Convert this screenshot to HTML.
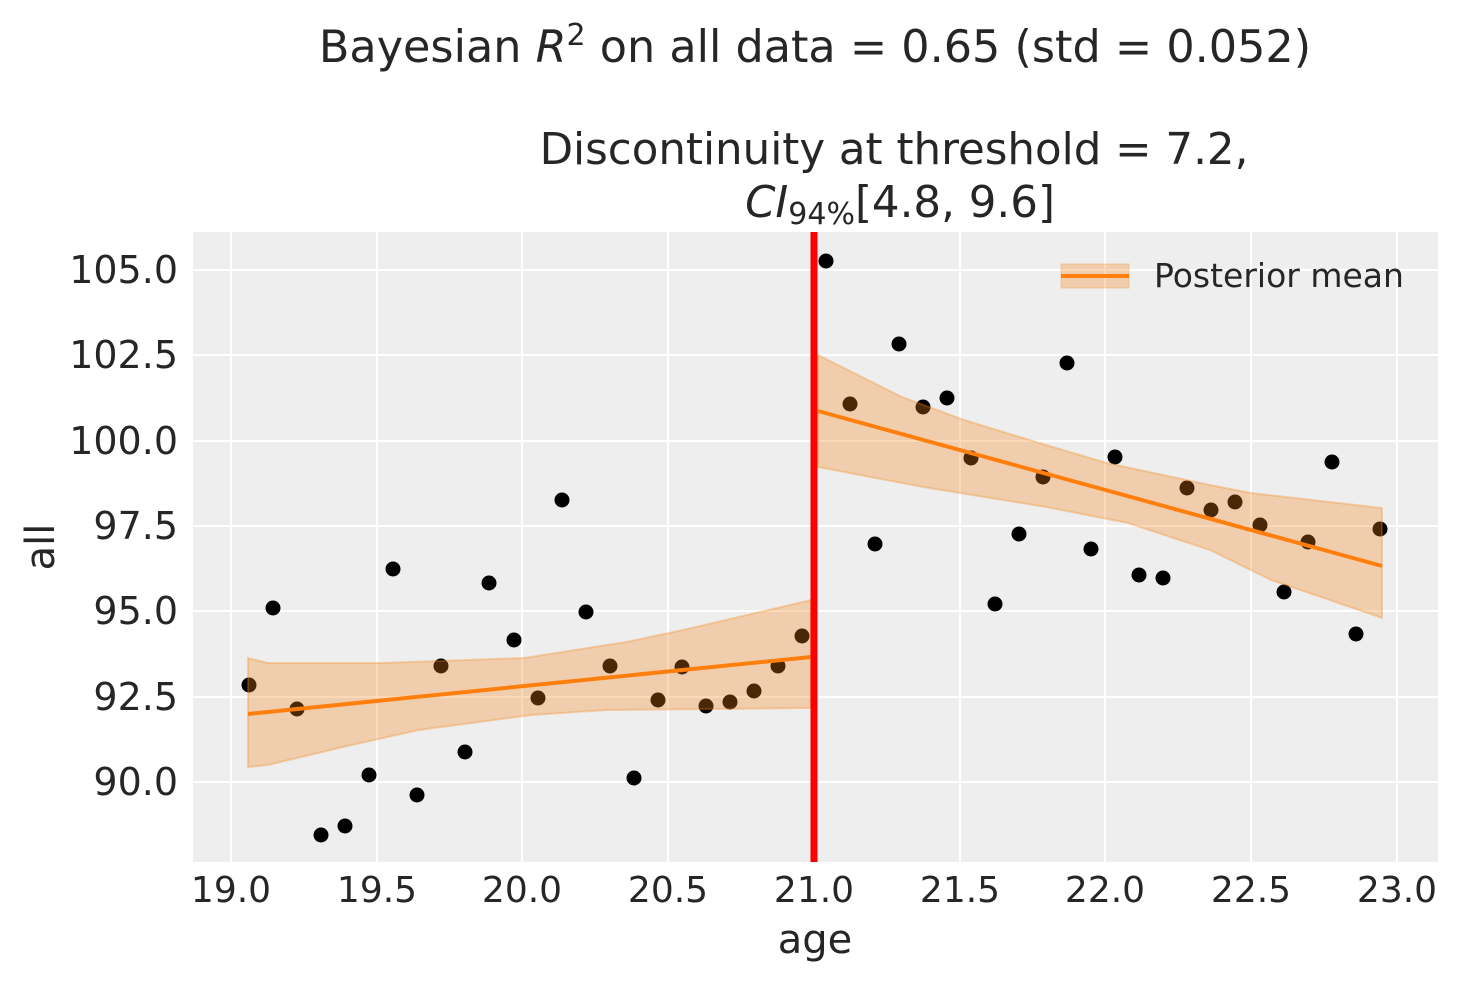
<!DOCTYPE html>
<html><head><meta charset="utf-8"><style>
body{margin:0;background:#fff;}
svg text{font-family:"DejaVu Sans","Liberation Sans",sans-serif;fill:#262626;}
</style></head><body>
<svg width="1463" height="983" xmlns="http://www.w3.org/2000/svg">
<rect x="193" y="232" width="1245" height="630" fill="#eeeeee"/>
<g stroke="#fff" stroke-width="2">
<line x1="231" y1="232" x2="231" y2="862"/><line x1="377" y1="232" x2="377" y2="862"/><line x1="522" y1="232" x2="522" y2="862"/><line x1="668" y1="232" x2="668" y2="862"/><line x1="814" y1="232" x2="814" y2="862"/><line x1="960" y1="232" x2="960" y2="862"/><line x1="1105" y1="232" x2="1105" y2="862"/><line x1="1251" y1="232" x2="1251" y2="862"/><line x1="1397" y1="232" x2="1397" y2="862"/>
<line x1="193" y1="270" x2="1438" y2="270"/><line x1="193" y1="355" x2="1438" y2="355"/><line x1="193" y1="441" x2="1438" y2="441"/><line x1="193" y1="526" x2="1438" y2="526"/><line x1="193" y1="611" x2="1438" y2="611"/><line x1="193" y1="697" x2="1438" y2="697"/><line x1="193" y1="782" x2="1438" y2="782"/>
</g>
<g fill="#000">
<circle cx="249" cy="685" r="7.5"/><circle cx="273" cy="608" r="7.5"/><circle cx="297" cy="709" r="7.5"/><circle cx="321" cy="835" r="7.5"/><circle cx="345" cy="826" r="7.5"/><circle cx="369" cy="775" r="7.5"/><circle cx="393" cy="569" r="7.5"/><circle cx="417" cy="795" r="7.5"/><circle cx="441" cy="666" r="7.5"/><circle cx="465" cy="752" r="7.5"/><circle cx="489" cy="583" r="7.5"/><circle cx="514" cy="640" r="7.5"/><circle cx="538" cy="698" r="7.5"/><circle cx="562" cy="500" r="7.5"/><circle cx="586" cy="612" r="7.5"/><circle cx="610" cy="666" r="7.5"/><circle cx="634" cy="778" r="7.5"/><circle cx="658" cy="700" r="7.5"/><circle cx="682" cy="667" r="7.5"/><circle cx="706" cy="706" r="7.5"/><circle cx="730" cy="702" r="7.5"/><circle cx="754" cy="691" r="7.5"/><circle cx="778" cy="666" r="7.5"/><circle cx="802" cy="636" r="7.5"/>
<circle cx="826" cy="261" r="7.5"/><circle cx="850" cy="404" r="7.5"/><circle cx="875" cy="544" r="7.5"/><circle cx="899" cy="344" r="7.5"/><circle cx="923" cy="407" r="7.5"/><circle cx="947" cy="398" r="7.5"/><circle cx="971" cy="458" r="7.5"/><circle cx="995" cy="604" r="7.5"/><circle cx="1019" cy="534" r="7.5"/><circle cx="1043" cy="477" r="7.5"/><circle cx="1067" cy="363" r="7.5"/><circle cx="1091" cy="549" r="7.5"/><circle cx="1115" cy="457" r="7.5"/><circle cx="1139" cy="575" r="7.5"/><circle cx="1163" cy="578" r="7.5"/><circle cx="1187" cy="488" r="7.5"/><circle cx="1211" cy="510" r="7.5"/><circle cx="1235" cy="502" r="7.5"/><circle cx="1260" cy="525" r="7.5"/><circle cx="1284" cy="592" r="7.5"/><circle cx="1308" cy="542" r="7.5"/><circle cx="1332" cy="462" r="7.5"/><circle cx="1356" cy="634" r="7.5"/><circle cx="1380" cy="529" r="7.5"/>
</g>
<g fill="#f58518" fill-opacity="0.3" stroke="#f58518" stroke-opacity="0.3" stroke-width="2">
<polygon points="248,658 268,663 381,663 524,658 626,642 683,630 777,608 811,600 811,708 607,710 532,715 494,720 419,730 343,747 268,765 248,767"/>
<polygon points="818,355 902,397 964,420 1046,445 1107,463 1210,485 1251,493 1382,508 1382,618 1271,580 1210,550 1128,523 1046,507 923,487 818,467"/>
</g>
<g stroke="#ff7f0e" stroke-width="4">
<line x1="248" y1="714" x2="811" y2="657"/>
<line x1="818" y1="411" x2="1382" y2="566"/>
</g>
<line x1="814" y1="232" x2="814" y2="862" stroke="#ff0000" stroke-width="7"/>
<rect x="1061" y="264" width="68" height="24" fill="#f58518" fill-opacity="0.3" stroke="#f58518" stroke-opacity="0.3"/>
<line x1="1061" y1="276" x2="1129" y2="276" stroke="#ff7f0e" stroke-width="4"/>
<text x="1154" y="287" font-size="33">Posterior mean</text>
<g font-size="38" text-anchor="end">
<text x="178" y="283">105.0</text><text x="178" y="368">102.5</text><text x="178" y="454">100.0</text><text x="178" y="539">97.5</text><text x="178" y="624">95.0</text><text x="178" y="710">92.5</text><text x="178" y="795">90.0</text>
</g>
<g font-size="36" text-anchor="middle">
<text x="231" y="902">19.0</text><text x="377" y="902">19.5</text><text x="522" y="902">20.0</text><text x="668" y="902">20.5</text><text x="814" y="902">21.0</text><text x="960" y="902">21.5</text><text x="1105" y="902">22.0</text><text x="1251" y="902">22.5</text><text x="1397" y="902">23.0</text>
<text x="815" y="953" font-size="40">age</text>
<text x="815" y="62" font-size="44.5">Bayesian <tspan font-style="italic">R</tspan><tspan font-size="30" dy="-17">2</tspan><tspan dy="17"> on all data = 0.65 (std = 0.052)</tspan></text>
<text x="894" y="164" font-size="43.5">Discontinuity at threshold = 7.2,</text>
<text x="900" y="217" font-size="43.5"><tspan font-style="italic">CI</tspan><tspan font-size="30" dy="7">94%</tspan><tspan dy="-7">[4.8, 9.6]</tspan></text>
</g>
<text transform="translate(54,547) rotate(-90)" font-size="40" text-anchor="middle">all</text>
</svg>
</body></html>
